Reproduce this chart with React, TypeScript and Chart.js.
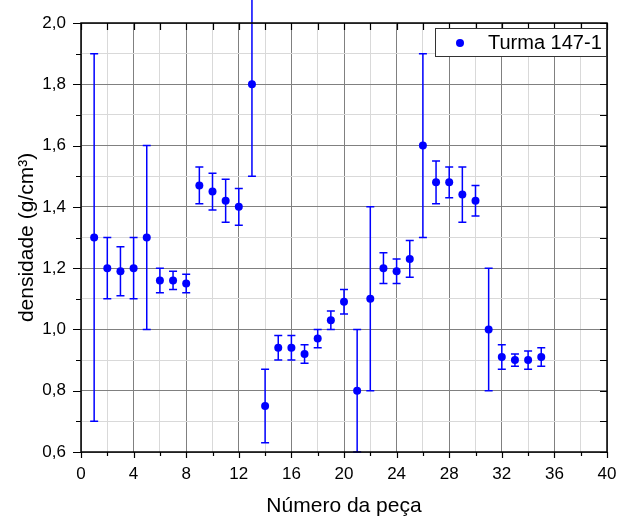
import React, { useEffect, useRef } from "react";
import { Chart, registerables } from "chart.js";

Chart.register(...registerables);

const pieceNo = [1, 2, 3, 4, 5, 6, 7, 8, 9, 10, 11, 12, 13, 14, 15, 16, 17, 18, 19, 20, 21, 22, 23, 24, 25, 26, 27, 28, 29, 30, 31, 32, 33, 34, 35];
const density = [1.30, 1.20, 1.19, 1.20, 1.30, 1.16, 1.16, 1.15, 1.47, 1.45, 1.42, 1.40, 1.80, 0.75, 0.94, 0.94, 0.92, 0.97, 1.03, 1.09, 0.80, 1.10, 1.20, 1.19, 1.23, 1.60, 1.48, 1.48, 1.44, 1.42, 1.00, 0.91, 0.90, 0.90, 0.91];
const densityErr = [0.60, 0.10, 0.08, 0.10, 0.30, 0.04, 0.03, 0.03, 0.06, 0.06, 0.07, 0.06, 0.30, 0.12, 0.04, 0.04, 0.03, 0.03, 0.03, 0.04, 0.20, 0.30, 0.05, 0.04, 0.06, 0.30, 0.07, 0.05, 0.09, 0.05, 0.20, 0.04, 0.02, 0.03, 0.03];
const seriesLabel = "Turma 147-1";
const xTitle = "Número da peça";
const yTitle = "densidade (g/cm³)";
const xMin = 0, xMax = 40, xStep = 2, xLabelEvery = 4;
const yMin = 0.6, yMax = 2.0, yStep = 0.1;

const BLUE = "#0000ff";
const FONT = "'Liberation Sans', Arial, sans-serif";

const errorBarPlugin = {
  id: "errorBars",
  beforeDatasetsDraw(chart: any) {
    const { ctx } = chart;
    const xs = chart.scales.x;
    const ys = chart.scales.y;
    ctx.save();
    ctx.strokeStyle = BLUE;
    ctx.lineWidth = 1.5;
    const cap = 4;
    pieceNo.forEach((xv, i) => {
      const px = xs.getPixelForValue(xv);
      const pt = ys.getPixelForValue(density[i] + densityErr[i]);
      const pb = ys.getPixelForValue(density[i] - densityErr[i]);
      ctx.beginPath();
      ctx.moveTo(px, pt);
      ctx.lineTo(px, pb);
      ctx.moveTo(px - cap, pt);
      ctx.lineTo(px + cap, pt);
      ctx.moveTo(px - cap, pb);
      ctx.lineTo(px + cap, pb);
      ctx.stroke();
    });
    ctx.restore();
  },
};

const framePlugin = {
  id: "frameTicksLegend",
  afterDraw(chart: any) {
    const { ctx, chartArea: a } = chart;
    const xs = chart.scales.x;
    const ys = chart.scales.y;
    ctx.save();
    ctx.strokeStyle = "#000";
    ctx.lineWidth = 1.5;
    ctx.strokeRect(a.left, a.top, a.right - a.left, a.bottom - a.top);
    ctx.lineWidth = 1.2;
    ctx.beginPath();
    xs.ticks.forEach((t: any) => {
      const px = Math.round(xs.getPixelForValue(t.value)) + 0.5;
      const major = Math.round(t.value) % xLabelEvery === 0;
      const len = major ? 6 : 4;
      ctx.moveTo(px, a.bottom);
      ctx.lineTo(px, a.bottom + len);
      ctx.moveTo(px, a.top);
      ctx.lineTo(px, a.top + 7);
    });
    ys.ticks.forEach((t: any) => {
      const py = Math.round(ys.getPixelForValue(t.value)) + 0.5;
      const major = Math.round(t.value * 10) % 2 === 0;
      const len = major ? 8 : 5;
      ctx.moveTo(a.left, py);
      ctx.lineTo(a.left - len, py);
      ctx.moveTo(a.right, py);
      ctx.lineTo(a.right - 7, py);
    });
    ctx.stroke();

    // legend
    const ds = chart.data.datasets[0];
    const bx = 435, by = 28, bw = 171, bh = 28;
    ctx.fillStyle = "#fff";
    ctx.fillRect(bx, by, bw, bh);
    ctx.strokeStyle = "#333";
    ctx.lineWidth = 1;
    ctx.strokeRect(bx + 0.5, by + 0.5, bw, bh);
    ctx.fillStyle = ds.backgroundColor;
    ctx.beginPath();
    ctx.arc(bx + 25, by + 15, 4, 0, Math.PI * 2);
    ctx.fill();
    ctx.fillStyle = "#000";
    ctx.font = `20px ${FONT}`;
    ctx.textBaseline = "middle";
    ctx.textAlign = "left";
    ctx.fillText(ds.label, bx + 53, by + 15);
    ctx.restore();
  },
};

export default function App() {
  const ref = useRef<HTMLCanvasElement>(null);
  useEffect(() => {
    if (!ref.current) return;
    const chart = new Chart(ref.current, {
      type: "scatter",
      data: {
        datasets: [
          {
            label: seriesLabel,
            data: pieceNo.map((x, i) => ({ x, y: density[i] })),
            backgroundColor: BLUE,
            borderColor: BLUE,
            pointRadius: 4,
            pointBorderWidth: 0,
            clip: false as any,
          },
        ],
      },
      options: {
        animation: false,
        responsive: false,
        devicePixelRatio: 1,
        layout: { padding: { top: 23, right: 15, left: 0, bottom: 0 } },
        plugins: { legend: { display: false }, tooltip: { enabled: false } },
        scales: {
          x: {
            type: "linear",
            min: xMin,
            max: xMax,
            afterFit: (s: any) => { s.height = 69; s.paddingLeft = 0; s.paddingRight = 0; },
            ticks: {
              stepSize: xStep,
              autoSkip: false,
              maxRotation: 0,
              padding: 12,
              color: "#000",
              font: { family: FONT, size: 17 },
              callback: (v: any) => (Math.round(v) % xLabelEvery === 0 ? String(v) : ""),
            },
            grid: {
              drawTicks: false,
              color: (c: any) => (c.tick && Math.round(c.tick.value) % xLabelEvery === 0 ? "#808080" : "#d9d9d9"),
              lineWidth: 1,
            },
            border: { display: false },
            title: {
              display: true,
              text: xTitle,
              color: "#000",
              font: { family: FONT, size: 21 },
              padding: { top: 0, bottom: 2 },
            },
          },
          y: {
            type: "linear",
            min: yMin,
            max: yMax,
            afterFit: (s: any) => { s.width = 81; s.paddingTop = 0; s.paddingBottom = 0; },
            ticks: {
              stepSize: yStep,
              autoSkip: false,
              padding: 15,
              color: "#000",
              font: { family: FONT, size: 17 },
              callback: (v: any) => (Math.round(v * 10) % 2 === 0 ? Number(v).toFixed(1).replace(".", ",") : ""),
            },
            grid: {
              drawTicks: false,
              color: (c: any) => (c.tick && Math.round(c.tick.value * 10) % 2 === 0 ? "#808080" : "#d9d9d9"),
              lineWidth: 1,
            },
            border: { display: false },
            title: {
              display: true,
              text: yTitle,
              color: "#000",
              font: { family: FONT, size: 21 },
              padding: { top: 15, bottom: 0 },
            },
          },
        },
      },
      plugins: [errorBarPlugin, framePlugin],
    });
    return () => chart.destroy();
  }, []);
  return (
    <div style={{ position: "fixed", left: 0, top: 0, width: 622, height: 521, background: "#fff" }}>
      <canvas ref={ref} width={622} height={521} style={{ display: "block", width: 622, height: 521 }} />
    </div>
  );
}
